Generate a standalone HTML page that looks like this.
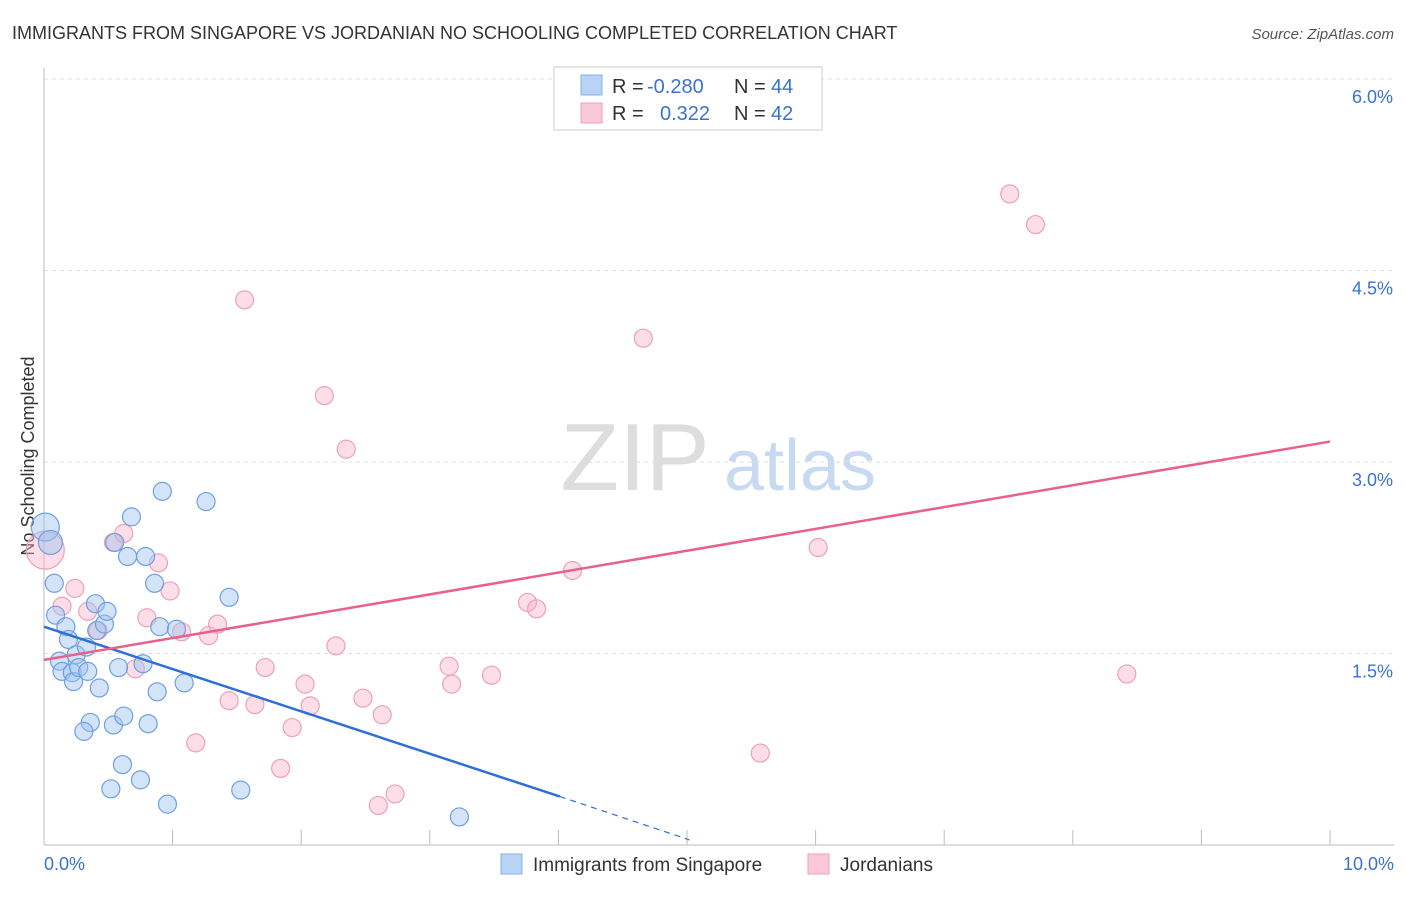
<!DOCTYPE html>
<html><head><meta charset="utf-8">
<style>
body{margin:0;background:#fff;font-family:"Liberation Sans",sans-serif;}
svg text{font-family:"Liberation Sans",sans-serif;}
</style></head>
<body>
<svg id="chart" width="1406" height="892" xmlns="http://www.w3.org/2000/svg">
<text x="12" y="39" font-size="18" fill="#333">IMMIGRANTS FROM SINGAPORE VS JORDANIAN NO SCHOOLING COMPLETED CORRELATION CHART</text>
<text x="1394" y="39" font-size="15" fill="#555" font-style="italic" text-anchor="end">Source: ZipAtlas.com</text>
<text x="34" y="456" font-size="18" fill="#333" text-anchor="middle" transform="rotate(-90 34 456)">No Schooling Completed</text>
<g>
<text x="635" y="490" font-size="96" fill="#ddd" font-family="Liberation Serif" text-anchor="middle">ZIP</text>
<text x="800" y="490" font-size="72" fill="#c8daf2" text-anchor="middle">atlas</text>
</g>
<g id="grid"></g>
<g id="axes"></g>
<g id="points"></g>
<g id="trends"></g>
<g>
<rect x="554" y="67" width="268" height="63" fill="#fff" stroke="#ccc"/>
<rect x="581" y="75" width="21" height="20" fill="#b9d3f5" stroke="#8ab0e6"/>
<rect x="581" y="103" width="21" height="20" fill="#fbc8d8" stroke="#eba2ba"/>
<text x="612" y="93" font-size="20" fill="#333">R =</text>
<text x="647" y="93" font-size="20" fill="#3a72d0">-0.280</text>
<text x="734" y="93" font-size="20" fill="#333">N =</text>
<text x="771" y="93" font-size="20" fill="#3a72d0">44</text>
<text x="612" y="120" font-size="20" fill="#333">R =</text>
<text x="660" y="120" font-size="20" fill="#3a72d0">0.322</text>
<text x="734" y="120" font-size="20" fill="#333">N =</text>
<text x="771" y="120" font-size="20" fill="#3a72d0">42</text>
</g>
<g>
<rect x="501" y="854" width="21" height="20" fill="#b9d3f5" stroke="#8ab0e6"/>
<text x="533" y="871" font-size="19" fill="#333">Immigrants from Singapore</text>
<rect x="808" y="854" width="21" height="20" fill="#fbc8d8" stroke="#eba2ba"/>
<text x="840" y="871" font-size="19" fill="#333">Jordanians</text>
</g>
</svg>
<script>
const yTicks=[1.5,3.0,4.5,6.0];
const yTickLabels=["1.5%","3.0%","4.5%","6.0%"];
const xTickLabels=["0.0%","10.0%"];
const blueX=[0.01,0.05,0.08,0.09,0.12,0.14,0.17,0.19,0.22,0.23,0.25,0.27,0.33,0.34,0.4,0.41,0.47,0.49,0.43,0.55,0.65,0.68,0.79,0.86,0.9,0.92,1.03,1.09,0.88,1.26,1.44,0.77,0.58,0.36,0.31,0.54,0.62,0.81,0.61,0.75,0.52,0.96,1.53,3.23];
const blueY=[2.49,2.37,2.05,1.8,1.44,1.36,1.71,1.61,1.35,1.28,1.49,1.39,1.55,1.36,1.89,1.68,1.73,1.83,1.23,2.37,2.26,2.57,2.26,2.05,1.71,2.77,1.69,1.27,1.2,2.69,1.94,1.42,1.39,0.96,0.89,0.94,1.01,0.95,0.63,0.51,0.44,0.32,0.43,0.22];
const pinkX=[0.01,0.14,0.24,0.34,0.42,0.54,0.62,0.71,0.8,0.89,0.98,1.07,1.28,1.35,1.56,1.44,1.64,1.18,1.72,1.84,1.93,2.03,2.07,2.18,2.27,2.35,2.48,2.6,2.63,2.73,3.15,3.17,3.48,3.76,3.83,4.11,4.66,5.57,6.02,7.51,7.71,8.42];
const pinkY=[2.31,1.87,2.01,1.83,1.68,2.37,2.44,1.38,1.78,2.21,1.99,1.67,1.64,1.73,4.27,1.13,1.1,0.8,1.39,0.6,0.92,1.26,1.09,3.52,1.56,3.1,1.15,0.31,1.02,0.4,1.4,1.26,1.33,1.9,1.85,2.15,3.97,0.72,2.33,5.1,4.86,1.34];
const blueTrend=[-0.280,1.71,0.0295]; // r, intercept, slope per 1%: via endpoints
const blueLine=[[0,1.71],[4.01,0.38],[5.02,0.04]];
const pinkLine=[[0,1.45],[10,3.16]];
const X0=44,X1=1330,Y0=845,YS=191.5/1.5;
const sx=v=>X0+(X1-X0)*v/10, sy=v=>Y0-v*YS;
const NS="http://www.w3.org/2000/svg";
function mk(tag,attrs,parent){const e=document.createElementNS(NS,tag);for(const k in attrs)e.setAttribute(k,attrs[k]);parent.appendChild(e);return e;}
const grid=document.getElementById('grid'),axes=document.getElementById('axes');
yTicks.forEach((t,i)=>{
 const g=mk('line',{x1:X0,x2:1394,y1:sy(t),y2:sy(t),stroke:'#ddd','stroke-dasharray':'4,4'},grid);
 
 
 const l=mk('text',{x:1393,y:sy(t)+24,'font-size':18,fill:'#3a72d0','text-anchor':'end'},axes);
 l.textContent=yTickLabels[i];
 
 
});
const ax=mk('line',{x1:X0,x2:X0,y1:68,y2:845,stroke:'#bbb'},axes);


const bx=mk('line',{x1:X0,x2:1394,y1:845,y2:845,stroke:'#bbb'},axes);


for(let i=1;i<=10;i++){const t=mk('line',{x1:sx(i),x2:sx(i),y1:830,y2:845,stroke:'#bbb'},axes);
 
 }
[[0,'start',X0],[1,'end',1394]].forEach(([i,a,x])=>{const l=mk('text',{x:x,y:870,'font-size':18,fill:'#3a72d0','text-anchor':a},axes);l.textContent=xTickLabels[i];
 
 });
const pts=document.getElementById('points');
pinkX.forEach((x,i)=>{const r=i==0?19:9;
 const c=mk('circle',{cx:sx(x),cy:sy(pinkY[i]),r:r,fill:'rgba(248,180,204,0.45)',stroke:'#eba2ba','stroke-width':1.2},pts);
 
 });
blueX.forEach((x,i)=>{const r=i==0?14:(i==1?12:9);
 const c=mk('circle',{cx:sx(x),cy:sy(blueY[i]),r:r,fill:'rgba(160,196,240,0.45)',stroke:'#6f9fe0','stroke-width':1.2},pts);
 
 });
const tr=document.getElementById('trends');
const b1=mk('line',{x1:sx(blueLine[0][0]),y1:sy(blueLine[0][1]),x2:sx(blueLine[1][0]),y2:sy(blueLine[1][1]),stroke:'#2f6fd6','stroke-width':2.5},tr);


const b2=mk('line',{x1:sx(blueLine[1][0]),y1:sy(blueLine[1][1]),x2:sx(blueLine[2][0]),y2:sy(blueLine[2][1]),stroke:'#2f6fd6','stroke-width':1.2,'stroke-dasharray':'6,5'},tr);


const p1=mk('line',{x1:sx(pinkLine[0][0]),y1:sy(pinkLine[0][1]),x2:sx(pinkLine[1][0]),y2:sy(pinkLine[1][1]),stroke:'#e8608c','stroke-width':2.5},tr);


</script>
</body></html>
